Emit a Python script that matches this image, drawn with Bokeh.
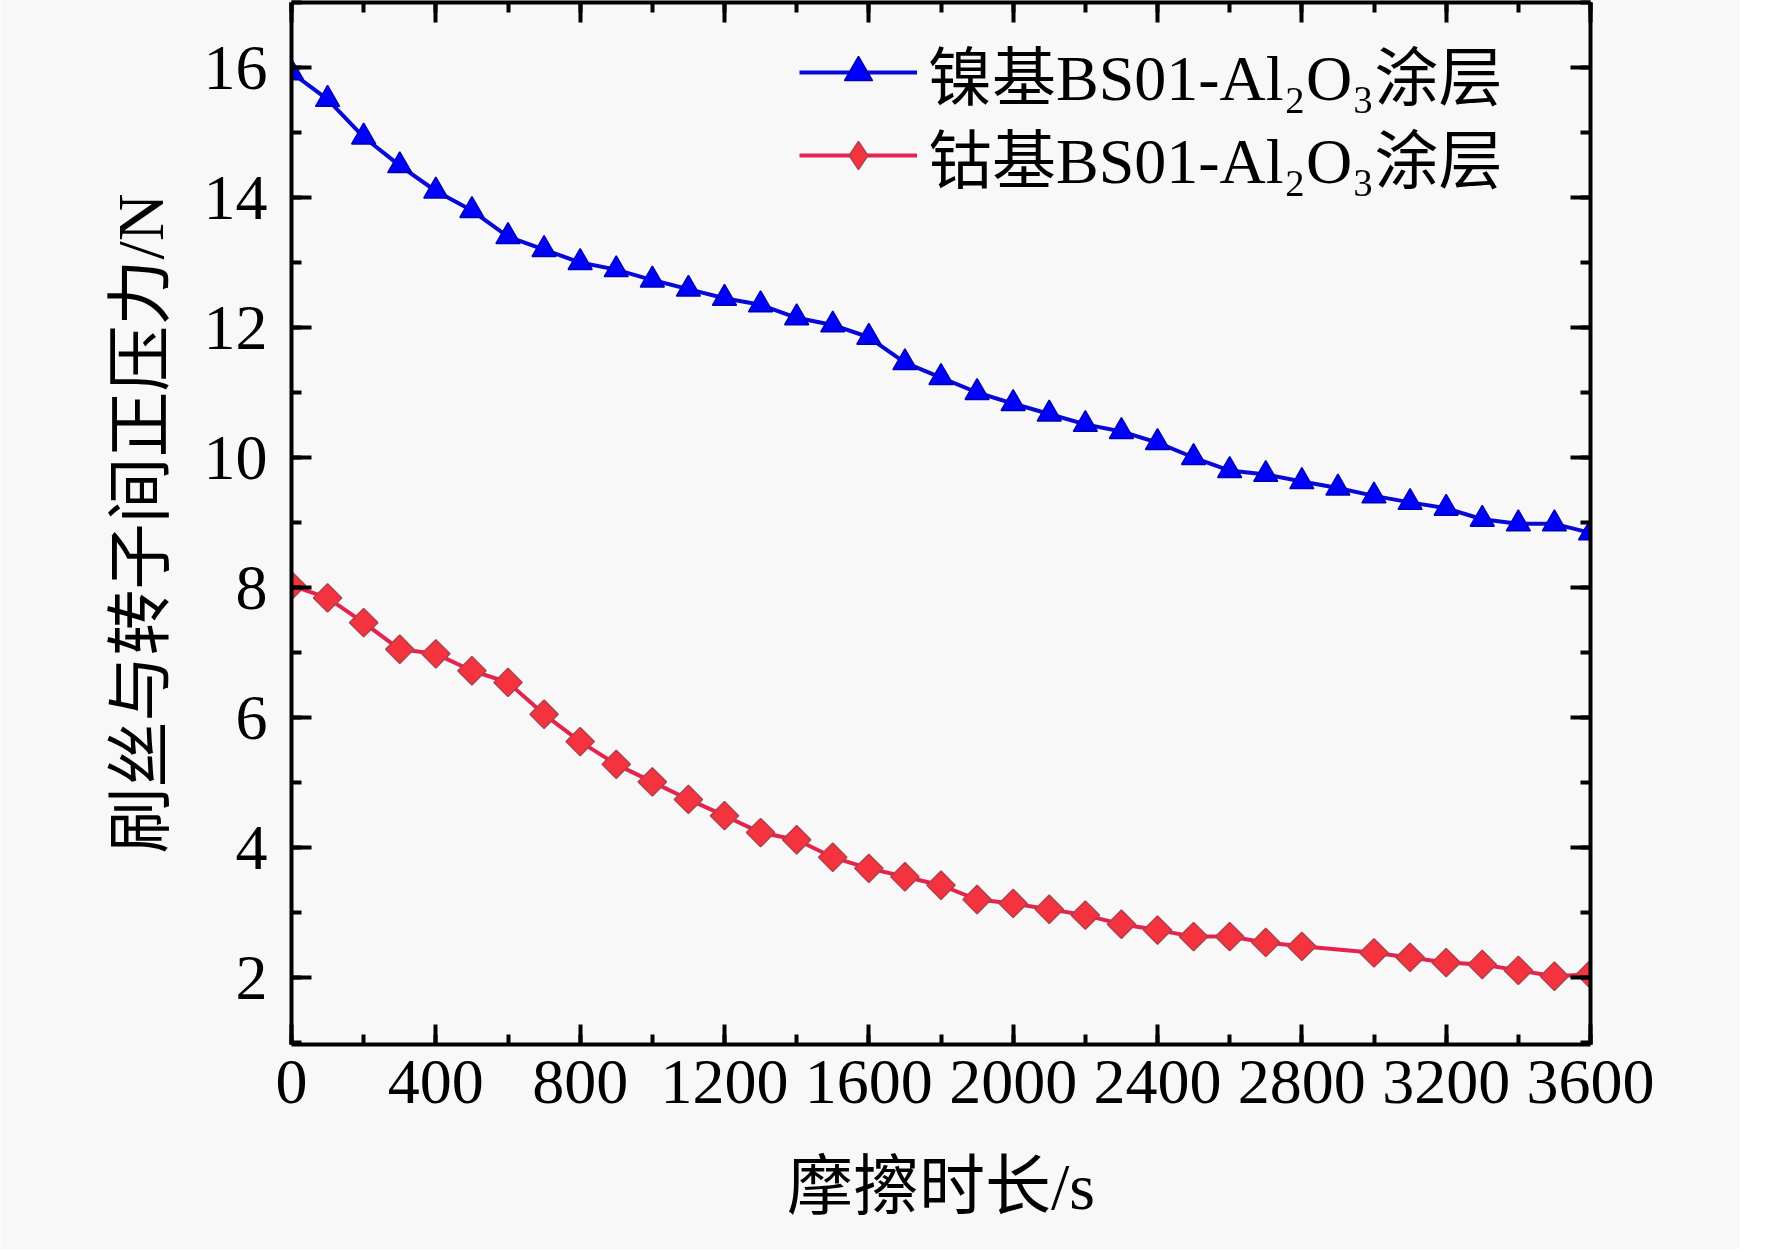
import math
from bokeh.plotting import figure
from bokeh.models import (Range1d, LinearAxis, SingleIntervalTicker, Legend,
                          LegendItem, CustomLabelingPolicy)
from bokeh.embed import file_html
from bokeh.resources import INLINE

# ---- data ----
time_ni = [0, 100, 200, 300, 400, 500, 600, 700, 800, 900, 1000, 1100, 1200,
           1300, 1400, 1500, 1600, 1700, 1800, 1900, 2000, 2100, 2200, 2300,
           2400, 2500, 2600, 2700, 2800, 2900, 3000, 3100, 3200, 3300, 3400,
           3500, 3600]
force_ni = [15.92, 15.51, 14.93, 14.49, 14.10, 13.80, 13.40, 13.20, 13.00,
            12.89, 12.73, 12.59, 12.45, 12.35, 12.15, 12.04, 11.85, 11.46,
            11.23, 11.00, 10.83, 10.67, 10.51, 10.40, 10.23, 10.00, 9.80,
            9.74, 9.63, 9.53, 9.41, 9.31, 9.22, 9.05, 8.98, 8.98, 8.84]

time_co = [0, 100, 200, 300, 400, 500, 600, 700, 800, 900, 1000, 1100, 1200,
           1300, 1400, 1500, 1600, 1700, 1800, 1900, 2000, 2100, 2200, 2300,
           2400, 2500, 2600, 2700, 2800, 3000, 3100, 3200, 3300, 3400, 3500,
           3600]
force_co = [8.03, 7.84, 7.46, 7.05, 6.98, 6.72, 6.54, 6.05, 5.63, 5.28, 5.01,
            4.74, 4.49, 4.23, 4.12, 3.85, 3.68, 3.55, 3.42, 3.20, 3.14, 3.05,
            2.96, 2.82, 2.73, 2.63, 2.63, 2.54, 2.48, 2.38, 2.31, 2.23, 2.20,
            2.11, 2.02, 2.05]

x_tick_step = 400
y_tick_step = 2

label_ni = "镍基BS01-Al₂O₃涂层"
label_co = "钴基BS01-Al₂O₃涂层"
x_title = "摩擦时长/s"
y_title = "刷丝与转子间正压力/N"

FONT = "Liberation Serif, Noto Sans CJK SC"
BG = "#f8f8f8"
NAN = float("nan")

p = figure(frame_width=1299, frame_height=1042,
           x_range=Range1d(0, 3600), y_range=Range1d(0.97, 17.0),
           output_backend="svg", toolbar_location=None,
           min_border_left=291, min_border_right=150,
           min_border_top=0, min_border_bottom=205,
           background_fill_color=BG, border_fill_color=BG)
p.styles = {"margin-top": "-2px"}
p.grid.visible = False
p.outline_line_color = None

# series
line_ni = p.line(time_ni, force_ni, line_color="#0808d8", line_width=4)
mark_ni = p.scatter(time_ni, force_ni, marker="triangle", size=24,
                    fill_color="#0000ff", line_color="#0000b0", line_width=1.5)
line_co = p.line(time_co, force_co, line_color="#e4234e", line_width=4)
mark_co = p.scatter(time_co, force_co, marker="square", angle=math.pi / 4,
                    size=20, fill_color="#f4333f", line_color="#b0404c",
                    line_width=1.5)
# diamond marker used only as the legend swatch (placeholder point is NaN, not drawn)
legend_co = p.scatter(x=[NAN], y=[NAN], marker="diamond", size=30,
                      fill_color="#f4333f", line_color="#b0404c", line_width=1.5)

hide_labels = CustomLabelingPolicy(code="""
try {
  for (const i of Array.from(indices)) { indices.unset(i) }
} catch (e) {
  try { for (const i of Array.from(indices)) { indices.set(i, false) } } catch (e2) {}
}
return indices
""")

def style_axis(ax, show_labels):
    ax.axis_line_width = 4
    ax.axis_line_color = "black"
    ax.major_tick_line_width = 4
    ax.minor_tick_line_width = 4
    ax.major_tick_line_color = "black"
    ax.minor_tick_line_color = "black"
    ax.major_tick_in = 20
    ax.major_tick_out = 0
    ax.minor_tick_in = 10
    ax.minor_tick_out = 0
    ax.major_label_text_font = FONT
    ax.major_label_text_color = "black"
    if show_labels:
        ax.major_label_text_font_size = "64px"
    else:
        ax.major_label_text_font_size = "1px"
        ax.major_label_standoff = 0
        ax.major_label_policy = hide_labels

# bottom / left axes
xa = p.xaxis[0]
xa.ticker = SingleIntervalTicker(interval=x_tick_step, num_minor_ticks=2)
style_axis(xa, True)
xa.major_label_standoff = 16
xa.axis_label = x_title
xa.axis_label_text_font = FONT
xa.axis_label_text_font_size = "66px"
xa.axis_label_text_font_style = "normal"
xa.axis_label_text_color = "black"
xa.axis_label_standoff = 44

ya = p.yaxis[0]
ya.ticker = SingleIntervalTicker(interval=y_tick_step, num_minor_ticks=2)
style_axis(ya, True)
ya.major_label_standoff = 24
ya.axis_label = y_title
ya.axis_label_text_font = FONT
ya.axis_label_text_font_size = "66px"
ya.axis_label_text_font_style = "normal"
ya.axis_label_text_color = "black"
ya.axis_label_standoff = 24

# mirrored top / right axes (ticks only)
ta = LinearAxis(ticker=SingleIntervalTicker(interval=x_tick_step, num_minor_ticks=2))
style_axis(ta, False)
p.add_layout(ta, "above")
ra = LinearAxis(ticker=SingleIntervalTicker(interval=y_tick_step, num_minor_ticks=2))
style_axis(ra, False)
p.add_layout(ra, "right")

# legend: one entry per Legend so each row can be placed exactly
def make_legend(item, loc):
    lg = Legend(items=[item])
    lg.location = loc
    lg.padding = 0
    lg.margin = 0
    lg.border_line_alpha = 0
    lg.background_fill_alpha = 0
    lg.glyph_width = 118
    lg.glyph_height = 70
    lg.label_height = 70
    lg.spacing = 0
    lg.label_standoff = 11
    lg.label_text_font = FONT
    lg.label_text_font_size = "64px"
    lg.label_text_color = "black"
    p.add_layout(lg)

make_legend(LegendItem(label=label_ni, renderers=[line_ni, mark_ni]), (508, 926))
make_legend(LegendItem(label=label_co, renderers=[line_co, legend_co]), (508, 843))

open("out.html", "w").write(file_html(p, INLINE))
